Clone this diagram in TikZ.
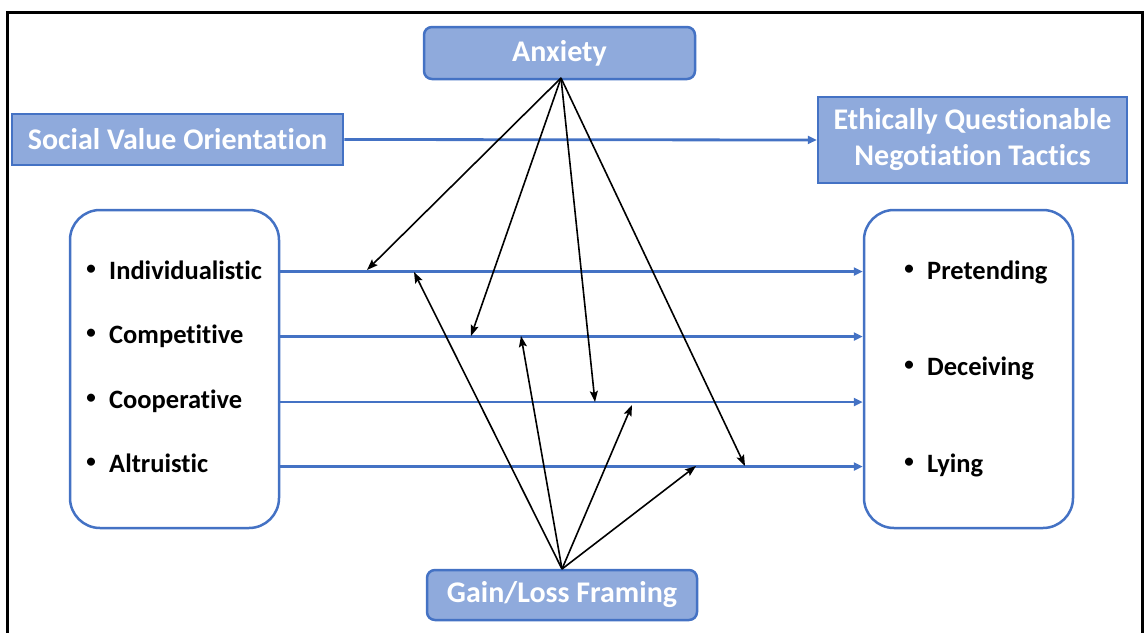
\documentclass[tikz,border=0pt]{standalone}
\usepackage{fontspec}
\setmainfont{Carlito}[Ligatures={NoCommon}]
\usetikzlibrary{arrows.meta}
\definecolor{boxfill}{HTML}{8FAADC}
\definecolor{boxline}{HTML}{4472C4}
\begin{document}
\begin{tikzpicture}[x=1pt,y=-1pt,
  titlebox/.style={draw=boxline,fill=boxfill,line width=2.5pt,text=white,
    font=\bfseries\fontsize{30}{36}\selectfont,inner sep=0pt,align=center},
  listbox/.style={draw=boxline,line width=2.5pt,rounded corners=30pt,inner sep=0pt},
  item/.style={font=\bfseries\fontsize{26.5}{30}\selectfont,anchor=base west,inner sep=0pt},
  dot/.style={font=\bfseries\fontsize{19}{20}\selectfont,anchor=center,inner sep=0pt},
  flow/.style={draw=boxline,line width=2.8pt,-{Triangle[length=9pt,width=8pt]}},
  mod/.style={draw=black,line width=1.6pt,-{Stealth[length=11pt,width=8pt,inset=2pt]}}]
\useasboundingbox (0,0) rectangle (1146,632);
% outer frame
\draw[line width=3pt] (7,12) rectangle (1142,645);

% construct boxes
\node[titlebox,minimum width=331pt,minimum height=51pt] (svo) at (177.5,139.5) {Social Value Orientation};
\node[titlebox,minimum width=309pt,minimum height=86pt] (eqnt) at (972.5,140) {Ethically Questionable\\Negotiation Tactics};
\node[titlebox,rounded corners=8pt,minimum width=271pt,minimum height=52pt] (anx) at (559.5,53) {Anxiety};
\node[titlebox,rounded corners=8pt,minimum width=270pt,minimum height=50pt] (glf) at (562,595) {Gain/Loss Framing};

\node[listbox,minimum width=209pt,minimum height=318pt] (lbox) at (174.5,369) {};
\node[listbox,minimum width=209pt,minimum height=318pt] (rbox) at (968.5,369) {};

% orientation items
\node[dot] (d1) at (91,270) {•}; \node[item] (i1) at (109,279) {Individualistic};
\node[dot] (d2) at (91,334) {•}; \node[item] (i2) at (109,343) {Competitive};
\node[dot] (d3) at (91,399) {•}; \node[item] (i3) at (109,408) {Cooperative};
\node[dot] (d4) at (91,463) {•}; \node[item] (i4) at (109,472) {Altruistic};

% tactic items
\node[dot] (e1) at (909,270) {•}; \node[item] (t1) at (927,279) {Pretending};
\node[dot] (e2) at (909,366) {•}; \node[item] (t2) at (927,375) {Deceiving};
\node[dot] (e3) at (909,463) {•}; \node[item] (t3) at (927,472) {Lying};

% main path
\draw[flow] (svo.east) -- (eqnt.west);

% flows from orientations to tactics
\coordinate (r1) at (279,271.5);
\coordinate (r2) at (279,336.5);
\coordinate (r3) at (279,402);
\coordinate (r4) at (279,466.5);
\draw[flow] (r1) -- (r1 -| rbox.west);
\draw[flow] (r2) -- (r2 -| rbox.west);
\draw[flow] (r3) -- (r3 -| rbox.west);
\draw[flow] (r4) -- (r4 -| rbox.west);

% moderating effects of anxiety
\coordinate (a1) at (367,270);
\coordinate (a2) at (471,336);
\coordinate (a3) at (595,402);
\coordinate (a4) at (745,466);
\coordinate (anxsrc) at (561,78);
\draw[mod] (anxsrc) -- (a1);
\draw[mod] (anxsrc) -- (a2);
\draw[mod] (anxsrc) -- (a3);
\draw[mod] (anxsrc) -- (a4);

% moderating effects of framing
\coordinate (g1) at (414,272);
\coordinate (g2) at (521,336);
\coordinate (g3) at (632,405);
\coordinate (g4) at (696,466);
\coordinate (glfsrc) at (562,569);
\draw[mod] (glfsrc) -- (g1);
\draw[mod] (glfsrc) -- (g2);
\draw[mod] (glfsrc) -- (g3);
\draw[mod] (glfsrc) -- (g4);
\end{tikzpicture}
\end{document}
